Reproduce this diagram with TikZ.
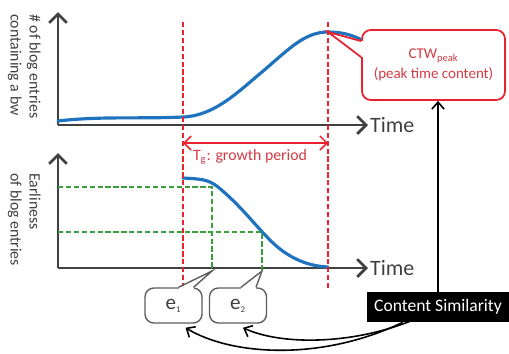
\documentclass[tikz,border=0pt]{standalone}
\usepackage{fontspec}
\setmainfont{Carlito}
\usetikzlibrary{arrows.meta,calc,positioning}
\definecolor{axisgray}{HTML}{404040}
\definecolor{curveblue}{HTML}{1F72BE}
\definecolor{markred}{HTML}{E8232F}
\definecolor{textred}{HTML}{D33A44}
\definecolor{guidegreen}{HTML}{3A9E3A}
\tikzset{
	axis/.style={line width=1.6pt, color=axisgray, -{Straight Barb[length=5pt, width=10pt, line width=1.6pt]}},
	curve/.style={line width=1.8pt, color=curveblue, line cap=round},
	period/.style={line width=0.9pt, color=markred, dash pattern=on 3pt off 1.5pt},
	guide/.style={line width=0.9pt, color=guidegreen, dash pattern=on 3pt off 1.5pt},
	axislabel/.style={rotate=-90, anchor=north west, align=left, inner sep=0pt, font=\fontsize{9}{10.8}\selectfont, text=axisgray},
	timelabel/.style={anchor=west, inner sep=1pt, font=\fontsize{12.5}{14}\selectfont, text=axisgray},
	bubble/.style={draw=axisgray!85, line width=0.8pt, rounded corners=5pt, fill=white, minimum width=1.14cm, minimum height=0.7cm, font=\fontsize{12}{14}\selectfont, text=axisgray},
	bubbleline/.style={draw=axisgray!85, line width=0.8pt},
	link/.style={line width=0.9pt, color=black, -{Straight Barb[length=4pt, width=7pt, line width=0.9pt]}},
}

\begin{document}
\begin{tikzpicture}[x=0.02cm, y=-0.02cm]
			%%%%% START %%%%%
			\useasboundingbox (0, 0) rectangle (509, 353);
			
			% top chart
			\coordinate (o1) at (58, 125);
			\draw[axis] (o1) -- (58, 12);
			\draw[axis] (o1) -- (368, 125) coordinate (t1);
			\node[timelabel] (time1) at (t1) {Time};
			\node[axislabel] (ylab1) at (41, 14) {\# of blog entries\\containing a bw};
			
			% bottom chart
			\coordinate (o2) at (58, 268);
			\draw[axis] (o2) -- (58, 153);
			\draw[axis] (o2) -- (368, 268) coordinate (t2);
			\node[timelabel] (time2) at (t2) {Time};
			\node[axislabel] (ylab2) at (41, 173) {Earliness\\of blog entries};
			
			% curves
			\coordinate (peak) at (328, 32);
			\draw[curve] (58, 121) .. controls (100, 116) and (140, 119) .. (183, 117)
				.. controls (215, 116) and (240, 90) .. (262, 72)
				.. controls (290, 48) and (305, 32) .. (peak)
				.. controls (342, 32) and (352, 35) .. (362, 40);
			\draw[curve] (183, 178) .. controls (200, 179) and (208, 179) .. (218, 187)
				.. controls (240, 205) and (255, 225) .. (268, 238)
				.. controls (285, 256) and (305, 266) .. (328, 267);
			
			% growth period
			\draw[period] (183, 22) -- (183, 288);
			\draw[period] (328, 22) -- (328, 290);
			\coordinate (gs) at (183, 143);
			\coordinate (ge) at (328, 143);
			\draw[line width=0.9pt, color=markred, {Straight Barb[length=4pt, width=8pt]}-{Straight Barb[length=4pt, width=8pt]}] (gs) -- (ge);
			\node[text=textred, font=\fontsize{9}{11}\selectfont] (tg) at (250, 157) {T\textsubscript{g}: growth period};
			
			% earliness guides
			\coordinate (e1tip) at (212, 271);
			\coordinate (e2tip) at (262, 271);
			\draw[guide] (58, 187) -| (e1tip);
			\draw[guide] (58, 232) -| (e2tip);
			
			% peak callout
			\node[draw=markred, line width=1pt, rounded corners=5pt, fill=white, minimum width=2.86cm, minimum height=1.4cm, align=center, text=textred, font=\fontsize{8.5}{11}\selectfont] (ctw) at (433.5, 65) {CTW\textsubscript{peak}\\(peak time content)};
			\fill[white] ($(ctw.north west)+(-1.5, 12)$) rectangle ($(ctw.north west)+(1.5, 28)$);
			\draw[line width=1pt, color=markred] ($(ctw.north west)+(0, 12)$) -- (peak) -- ($(ctw.north west)+(0, 28)$);
			
			% e1, e2 callouts
			\node[bubble] (e1) at (173.5, 305.5) {e\textsubscript{\tiny 1}};
			\node[bubble] (e2) at (238, 305.5) {e\textsubscript{\tiny 2}};
			\fill[white] ($(e1.north)+(5, -1.5)$) rectangle ($(e1.north)+(20, 1.5)$);
			\draw[bubbleline] ($(e1.north)+(5, 0)$) -- (e1tip) -- ($(e1.north)+(20, 0)$);
			\fill[white] ($(e2.north)+(3, -1.5)$) rectangle ($(e2.north)+(18, 1.5)$);
			\draw[bubbleline] ($(e2.north)+(3, 0)$) -- (e2tip) -- ($(e2.north)+(18, 0)$);
			
			% content similarity
			\node[fill=black, text=white, minimum width=2.84cm, minimum height=0.6cm, inner sep=1pt, font=\fontsize{10}{12}\selectfont] (cs) at (438, 307) {Content Similarity};
			\draw[link] (cs.north) -- (cs.north |- ctw.south);
			\draw[link] ($(cs.south west)+(36, 0)$) .. controls (320, 362) and (230, 355) .. ($(e1.south)+(12, 4)$);
			\draw[link] ($(cs.south west)+(43, -1)$) .. controls (350, 345) and (280, 345) .. ($(e2.south)+(5, 4)$);
			
			%%%%% END %%%%%
		\end{tikzpicture}
\end{document}
